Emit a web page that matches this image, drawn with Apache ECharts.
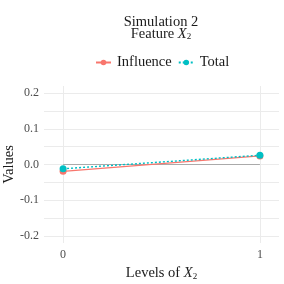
<!DOCTYPE html>
<html>
<head>
<meta charset="utf-8">
<script src="https://cdn.jsdelivr.net/npm/echarts@6/dist/echarts.min.js"></script>
<style>html,body{margin:0;padding:0;background:#fff}#c{width:284px;height:284px}</style>
</head>
<body>
<div id="c"></div>
<script>
var levels = [0, 1];
var influence = [-0.019, 0.024];
var total = [-0.012, 0.026];
var baseline = [0, 0];
var yTickLabels = [-0.2, -0.1, 0, 0.1, 0.2];
var yGridValues = [-0.2, -0.15, -0.1, -0.05, 0, 0.05, 0.1, 0.15, 0.2];
var xTickLabels = [0, 1];

var FONT = 'Liberation Serif';
var chart = echarts.init(document.getElementById('c'), null, {renderer: 'canvas'});
function pairs(ys) { return levels.map(function (x, i) { return [x, ys[i]]; }); }

chart.setOption({
  animation: false,
  backgroundColor: '#fff',
  title: {
    text: 'Simulation 2\nFeature {i|X}{s|2}',
    left: 161,
    textAlign: 'center',
    top: 16,
    padding: 0,
    textStyle: {
      fontFamily: FONT, fontSize: 14.5, fontWeight: 'normal', color: '#1a1a1a', lineHeight: 12,
      rich: {
        i: {fontFamily: FONT, fontSize: 14.5, fontStyle: 'italic', color: '#1a1a1a', lineHeight: 12},
        s: {fontFamily: FONT, fontSize: 9, color: '#1a1a1a', padding: [6, 0, 0, 0], lineHeight: 12}
      }
    }
  },
  legend: {
    left: 95,
    top: 55,
    padding: 0,
    itemWidth: 15,
    itemHeight: 7,
    itemGap: 6,
    data: ['Influence', 'Total'],
    textStyle: {fontFamily: FONT, fontSize: 14.5, color: '#1a1a1a', padding: [0, 0, 0, 1]}
  },
  grid: {left: 44, right: 5, top: 86, bottom: 41, containLabel: false, outerBoundsMode: 'none'},
  xAxis: {
    type: 'value',
    min: -0.097,
    max: 1.097,
    name: 'Levels of {i|X}{s|2}',
    nameLocation: 'middle',
    nameGap: 22,
    nameTextStyle: {
      fontFamily: FONT, fontSize: 14.5, color: '#1a1a1a',
      rich: {
        i: {fontFamily: FONT, fontSize: 14.5, fontStyle: 'italic', color: '#1a1a1a'},
        s: {fontFamily: FONT, fontSize: 9, color: '#1a1a1a', padding: [6, 0, 0, 0]}
      }
    },
    axisLine: {show: false},
    axisTick: {show: false, customValues: xTickLabels},
    axisLabel: {customValues: xTickLabels, fontFamily: FONT, fontSize: 12, color: '#4d4d4d', margin: 6,
      formatter: function (v) { return String(v); }},
    splitLine: {show: true, lineStyle: {color: '#ebebeb', width: 1}}
  },
  yAxis: {
    type: 'value',
    min: -0.22,
    max: 0.22,
    name: 'Values',
    nameLocation: 'middle',
    nameGap: 35,
    nameRotate: 90,
    nameMoveOverlap: false,
    nameTextStyle: {fontFamily: FONT, fontSize: 14.5, color: '#1a1a1a', align: 'center', verticalAlign: 'middle'},
    axisLine: {show: false},
    axisTick: {show: false, customValues: yGridValues},
    axisLabel: {customValues: yTickLabels, fontFamily: FONT, fontSize: 12, color: '#4d4d4d', margin: 5,
      formatter: function (v) { return v.toFixed(1); }},
    splitLine: {show: true, lineStyle: {color: '#ebebeb', width: 1}}
  },
  series: [
    {
      name: 'baseline', type: 'line', data: pairs(baseline), symbol: 'none', silent: true,
      lineStyle: {color: '#aaaaaa', width: 1.2}, z: 1
    },
    {
      name: 'Influence', type: 'line', data: pairs(influence), symbol: 'circle', symbolSize: 7,
      itemStyle: {color: '#F8766D'}, lineStyle: {color: '#F8766D', width: 1.2, type: 'solid'}, z: 2
    },
    {
      name: 'Total', type: 'line', data: pairs(total), symbol: 'circle', symbolSize: 7,
      itemStyle: {color: '#00BFC4'}, lineStyle: {color: '#00BFC4', width: 1.4, type: [2, 2]}, z: 3
    }
  ]
});
</script>
</body>
</html>
